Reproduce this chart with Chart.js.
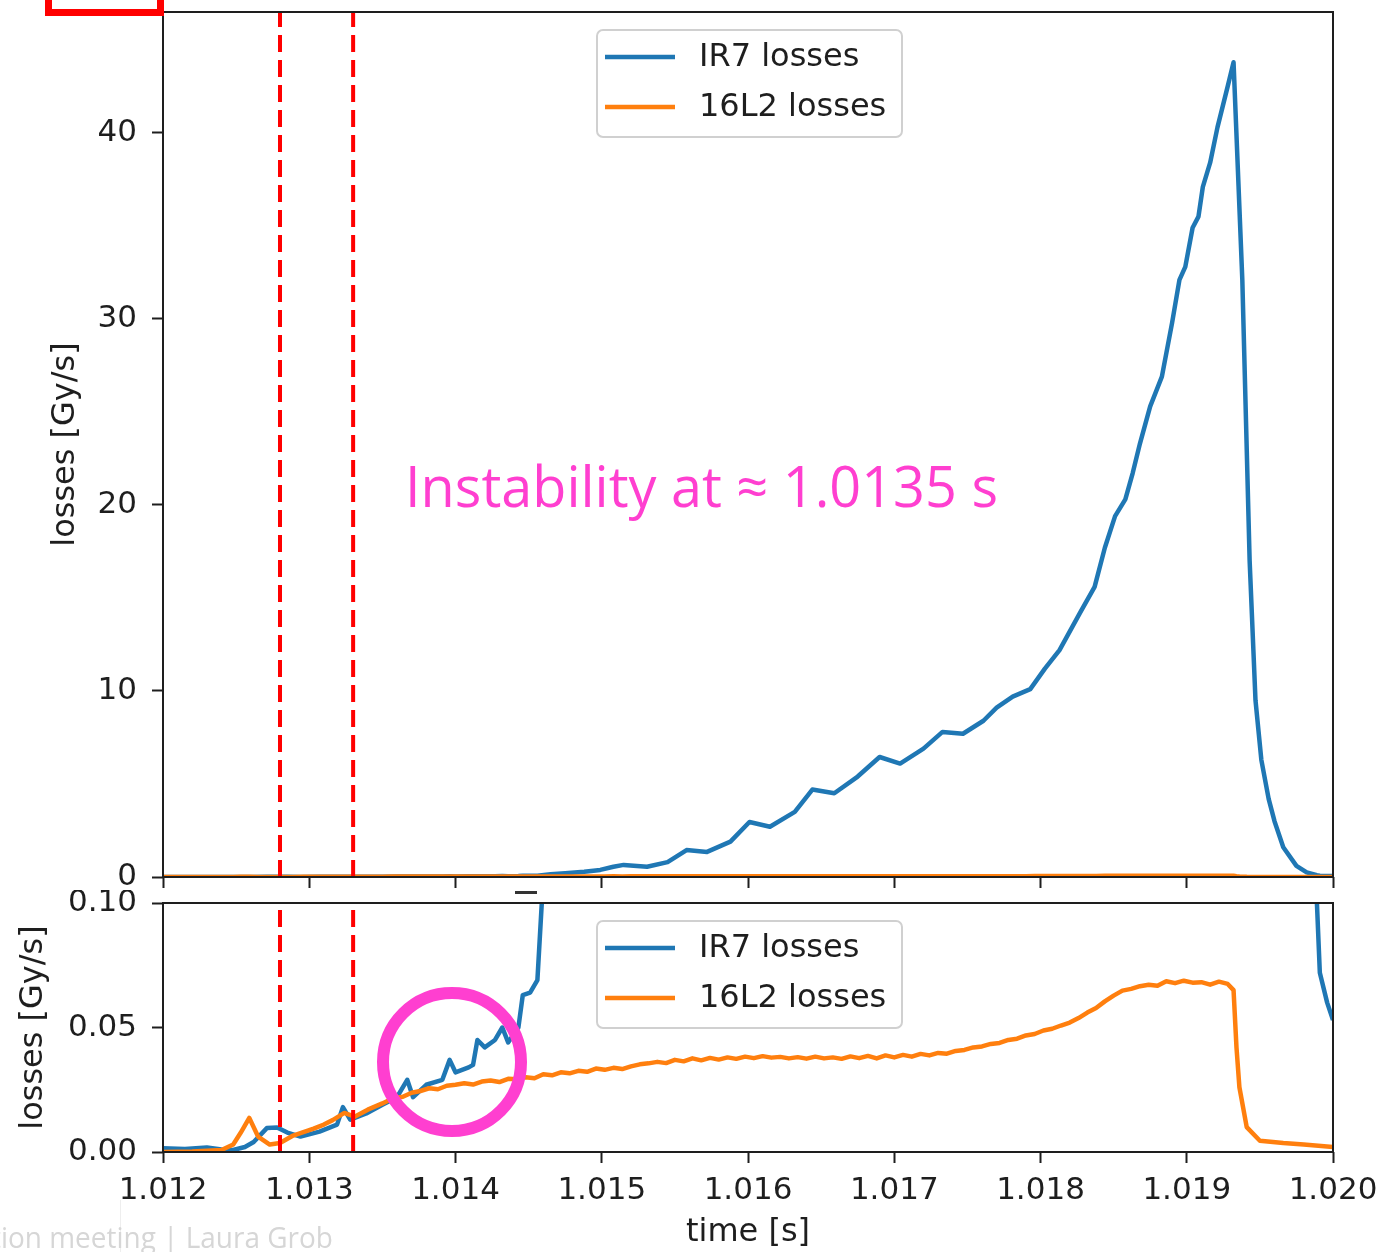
<!DOCTYPE html>
<html>
<head>
<meta charset="utf-8">
<script src="https://cdn.jsdelivr.net/npm/chart.js@4.4.1/dist/chart.umd.min.js"></script>
<style>
html, body { margin: 0; padding: 0; background: #fff; }
body { width: 1384px; height: 1252px; position: relative; overflow: hidden; }
#topBox { position: absolute; left: 0; top: 0; width: 1384px; height: 890px; }
#bottomBox { position: absolute; left: 0; top: 890px; width: 1384px; height: 362px; }
#note { position: absolute; left: 405px; top: 457px; font-family: "Open Sans"; font-size: 56px;
        line-height: 1; color: #ff3fd0; white-space: nowrap; transform-origin: 0 0; }
#ring { position: absolute; left: 377px; top: 987px; width: 150px; height: 150px; box-sizing: border-box;
        border: 12px solid #ff3fd0; border-radius: 50%; }
#redBox { position: absolute; left: 45px; top: -20px; width: 119px; height: 36px; box-sizing: border-box;
          border: 7px solid #ff0000; }
#footer { position: absolute; right: 1051px; top: 1222px; font-family: "Open Sans"; font-size: 30px;
          line-height: 1; color: #d6d6d6; white-space: nowrap; transform-origin: 100% 0; }
#slideEdge { position: absolute; left: 120px; top: 1200px; width: 1px; height: 52px; background: #eeeeee; }
#dash { position: absolute; left: 515px; top: 891px; width: 22px; height: 3px; background: #333; }
</style>
</head>
<body>
<div id="topBox"><canvas id="topChart"></canvas></div>
<div id="bottomBox"><canvas id="bottomChart"></canvas></div>
<div id="dash"></div>
<div id="ring"></div>
<div id="redBox"></div>
<div id="slideEdge"></div>
<div id="footer">tion meeting | Laura Grob</div>
<div id="note">Instability at ≈ 1.0135 s</div>
<script>
// IR7 losses [Gy/s]
var ir7Time = [1.01200, 1.01215, 1.01230, 1.01240, 1.01248, 1.01256, 1.01262, 1.01271, 1.01278, 1.01285,
  1.01294, 1.01307, 1.01319, 1.01323, 1.01328, 1.01339, 1.01350, 1.01360, 1.01367, 1.01371,
  1.01380, 1.01391, 1.01396, 1.01400, 1.01409, 1.01412, 1.01415, 1.01420, 1.01427, 1.01432,
  1.01436, 1.01443, 1.01446, 1.01451, 1.01456, 1.01459, 1.01465, 1.01475, 1.01488, 1.01499,
  1.01508, 1.01515, 1.01531, 1.01545, 1.01558, 1.01572, 1.01588, 1.01601, 1.01615, 1.01632,
  1.01644, 1.01659, 1.01675, 1.01690, 1.01704, 1.01720, 1.01733, 1.01747, 1.01761, 1.01770,
  1.01781, 1.01793, 1.01803, 1.01813, 1.01827, 1.01837, 1.01844, 1.01851, 1.01858, 1.01863,
  1.01868, 1.01875, 1.01883, 1.01890, 1.01895, 1.01899, 1.01904, 1.01908, 1.01911, 1.01916,
  1.01921, 1.01928, 1.01932, 1.01938, 1.01943, 1.01947, 1.01951, 1.01956, 1.01960, 1.01966,
  1.01975, 1.01982, 1.01989, 1.01991, 1.01996, 1.02000];
var ir7Loss = [0.0015, 0.0012, 0.0018, 0.0010, 0.0008, 0.0020, 0.0040, 0.0096, 0.0098, 0.0078,
  0.0062, 0.0082, 0.0110, 0.0180, 0.0130, 0.0155, 0.0190, 0.0220, 0.0290, 0.0220,
  0.0270, 0.0290, 0.0370, 0.0320, 0.0340, 0.0350, 0.0450, 0.0420, 0.0450, 0.0500,
  0.0440, 0.0500, 0.0630, 0.0640, 0.0690, 0.1000, 0.15, 0.20, 0.28, 0.38,
  0.55, 0.65, 0.55, 0.80, 1.45, 1.35, 1.90, 2.96, 2.70, 3.50,
  4.70, 4.50, 5.40, 6.45, 6.10, 6.90, 7.80, 7.70, 8.40, 9.10,
  9.70, 10.1, 11.2, 12.2, 14.2, 15.6, 17.7, 19.4, 20.3, 21.7,
  23.3, 25.3, 26.9, 29.8, 32.1, 32.8, 34.9, 35.5, 37.1, 38.4,
  40.3, 42.5, 43.8, 32.1, 17.0, 9.5, 6.3, 4.2, 3.0, 1.6,
  0.6, 0.25, 0.10, 0.072, 0.060, 0.053];

// 16L2 losses [Gy/s]
var l16Time = [1.01200, 1.01220, 1.01240, 1.01248, 1.01253, 1.01259, 1.01265, 1.01273, 1.01280, 1.01289,
  1.01296, 1.01303, 1.01310, 1.01316, 1.01324, 1.01331, 1.01340, 1.01350, 1.01357, 1.01364,
  1.01370, 1.01376, 1.01382, 1.01388, 1.01394, 1.01400, 1.01406, 1.01412, 1.01418, 1.01424,
  1.01430, 1.01436, 1.01442, 1.01448, 1.01454, 1.01460, 1.01466, 1.01472, 1.01478, 1.01484,
  1.01490, 1.01496, 1.01502, 1.01508, 1.01514, 1.01520, 1.01526, 1.01532, 1.01538, 1.01544,
  1.01550, 1.01556, 1.01562, 1.01568, 1.01574, 1.01580, 1.01586, 1.01592, 1.01598, 1.01604,
  1.01610, 1.01616, 1.01622, 1.01628, 1.01634, 1.01640, 1.01646, 1.01652, 1.01658, 1.01664,
  1.01670, 1.01676, 1.01682, 1.01688, 1.01694, 1.01700, 1.01706, 1.01712, 1.01718, 1.01724,
  1.01730, 1.01736, 1.01742, 1.01748, 1.01754, 1.01760, 1.01766, 1.01772, 1.01778, 1.01784,
  1.01790, 1.01796, 1.01802, 1.01808, 1.01814, 1.01820, 1.01826, 1.01832, 1.01838, 1.01844,
  1.01850, 1.01856, 1.01862, 1.01868, 1.01874, 1.01880, 1.01886, 1.01892, 1.01898, 1.01904,
  1.01910, 1.01916, 1.01922, 1.01928, 1.01932, 1.01934, 1.01936, 1.01941, 1.01950, 1.01966,
  1.01980, 1.02000];
var l16Loss = [0.0000, 0.0002, 0.0008, 0.0030, 0.0076, 0.0137, 0.0062, 0.0030, 0.0036, 0.0066,
  0.0080, 0.0094, 0.0110, 0.0128, 0.0157, 0.0142, 0.0170, 0.0195, 0.0215, 0.0222,
  0.0238, 0.0245, 0.0256, 0.0252, 0.0266, 0.0270, 0.0276, 0.0271, 0.0283, 0.0287,
  0.0281, 0.0294, 0.0292, 0.0300, 0.0296, 0.0312, 0.0308, 0.0320, 0.0316, 0.0326,
  0.0322, 0.0335, 0.0330, 0.0338, 0.0333, 0.0344, 0.0352, 0.0356, 0.0362, 0.0357,
  0.0370, 0.0364, 0.0376, 0.0368, 0.0378, 0.0371, 0.0380, 0.0374, 0.0383, 0.0377,
  0.0385, 0.0379, 0.0382, 0.0376, 0.0381, 0.0375, 0.0383, 0.0376, 0.0380, 0.0374,
  0.0384, 0.0377, 0.0386, 0.0376, 0.0388, 0.0380, 0.0390, 0.0383, 0.0394, 0.0388,
  0.0398, 0.0395, 0.0406, 0.0410, 0.0420, 0.0424, 0.0434, 0.0438, 0.0450, 0.0455,
  0.0468, 0.0474, 0.0488, 0.0495, 0.0508, 0.0520, 0.0538, 0.0560, 0.0578, 0.0605,
  0.0628, 0.0648, 0.0655, 0.0666, 0.0672, 0.0668, 0.0686, 0.0678, 0.0688, 0.0680,
  0.0682, 0.0672, 0.0684, 0.0675, 0.0650, 0.0420, 0.0260, 0.0100, 0.0045, 0.0036,
  0.0030, 0.0020];

// marked times (red dashed lines)
var cutTimes = [1.0128, 1.0133];

var xTicks = [1.012, 1.013, 1.014, 1.015, 1.016, 1.017, 1.018, 1.019, 1.020];
var topTicks = [0, 10, 20, 30, 40];
var bottomTicks = [0.00, 0.05, 0.10];
var topMax = 46.5;
var bottomMax = 0.10;

var ink = '#1e1e1e';
var tickFont = { family: 'DejaVu Sans', size: 31 };
var titleFont = { family: 'DejaVu Sans', size: 32 };

function pairs(xs, ys) {
  return xs.map(function (x, i) { return { x: x, y: ys[i] }; });
}

/* frame round the plot and a matplotlib style legend box */
var framePlugin = {
  id: 'frameLegend',
  afterDatasetsDraw: function (chart) {
    var ctx = chart.ctx, a = chart.chartArea;
    ctx.save();
    ctx.strokeStyle = ink;
    ctx.lineWidth = 2;
    ctx.strokeRect(a.left, a.top, a.right - a.left, a.bottom - a.top);

    var bx = a.left + 434, by = a.top + 18, bw = 305, bh = 107, r = 6;
    ctx.beginPath();
    ctx.moveTo(bx + r, by);
    ctx.arcTo(bx + bw, by, bx + bw, by + bh, r);
    ctx.arcTo(bx + bw, by + bh, bx, by + bh, r);
    ctx.arcTo(bx, by + bh, bx, by, r);
    ctx.arcTo(bx, by, bx + bw, by, r);
    ctx.closePath();
    ctx.fillStyle = 'rgba(255,255,255,0.8)';
    ctx.fill();
    ctx.strokeStyle = '#d0d0d0';
    ctx.lineWidth = 2;
    ctx.stroke();

    ctx.font = '32px "DejaVu Sans"';
    ctx.textBaseline = 'middle';
    chart.data.datasets.slice(0, 2).forEach(function (d, i) {
      var cy = by + 27 + i * 50;
      ctx.beginPath();
      ctx.moveTo(bx + 8, cy);
      ctx.lineTo(bx + 78, cy);
      ctx.strokeStyle = d.borderColor;
      ctx.lineWidth = 4.5;
      ctx.stroke();
      ctx.fillStyle = ink;
      ctx.fillText(d.label, bx + 102, cy + 1);
    });
    ctx.restore();
  }
};

function noEdgePadding(s) {
  s.paddingTop = 0; s.paddingBottom = 0; s.paddingLeft = 0; s.paddingRight = 0;
}

function makeChart(id, yMax, yTicks, yDigits, showX, titlePad, padTop, xHeight) {
  var sets = [
    { label: 'IR7 losses', data: pairs(ir7Time, ir7Loss), borderColor: '#1f77b4', borderWidth: 4.5, order: 2 },
    { label: '16L2 losses', data: pairs(l16Time, l16Loss), borderColor: '#ff7f0e', borderWidth: 4.5, order: 1 }
  ];
  cutTimes.forEach(function (t) {
    sets.push({ label: 'cut', data: [{ x: t, y: 0 }, { x: t, y: yMax }], borderColor: '#ff0000',
      borderWidth: 4, borderDash: [17, 8], order: 0 });
  });
  return new Chart(document.getElementById(id), {
    type: 'line',
    data: { datasets: sets },
    options: {
      animation: false,
      responsive: true,
      maintainAspectRatio: false,
      layout: { padding: { left: 0, right: 51, top: padTop, bottom: 0 } },
      elements: {
        point: { radius: 0 },
        line: { tension: 0, borderJoinStyle: 'round', fill: false }
      },
      plugins: { legend: { display: false }, tooltip: { enabled: false } },
      scales: {
        x: {
          type: 'linear', min: 1.012, max: 1.020,
          afterBuildTicks: function (s) { s.ticks = xTicks.map(function (v) { return { value: v }; }); },
          afterFit: function (s) { s.height = xHeight; noEdgePadding(s); },
          border: { display: false },
          grid: { drawOnChartArea: false, drawTicks: true, tickLength: 11, tickWidth: 2, tickColor: ink },
          ticks: { display: showX, color: ink, font: tickFont, padding: 9, maxRotation: 0, autoSkip: false,
            callback: function (v) { return v.toFixed(3); } },
          title: { display: showX, text: 'time [s]', color: ink, font: titleFont, padding: { top: 0, bottom: 0 } }
        },
        y: {
          min: 0, max: yMax,
          afterBuildTicks: function (s) { s.ticks = yTicks.map(function (v) { return { value: v }; }); },
          afterFit: function (s) { s.width = 163; noEdgePadding(s); },
          border: { display: false },
          grid: { drawOnChartArea: false, drawTicks: true, tickLength: 11, tickWidth: 2, tickColor: ink },
          ticks: { color: ink, font: tickFont, padding: 15,
            callback: function (v) { return v.toFixed(yDigits); } },
          title: { display: true, text: 'losses [Gy/s]', color: ink, font: titleFont,
            padding: { top: titlePad, bottom: 0 } }
        }
      }
    },
    plugins: [framePlugin]
  });
}

makeChart('topChart', topMax, topTicks, 0, false, 46, 12, 13);
makeChart('bottomChart', bottomMax, bottomTicks, 2, true, 14, 13, 100);

var note = document.getElementById('note');
note.style.transform = 'scaleX(' + (593 / note.getBoundingClientRect().width) + ')';
var footer = document.getElementById('footer');
footer.style.transform = 'scaleX(' + (342 / footer.getBoundingClientRect().width) + ')';
</script>
</body>
</html>
